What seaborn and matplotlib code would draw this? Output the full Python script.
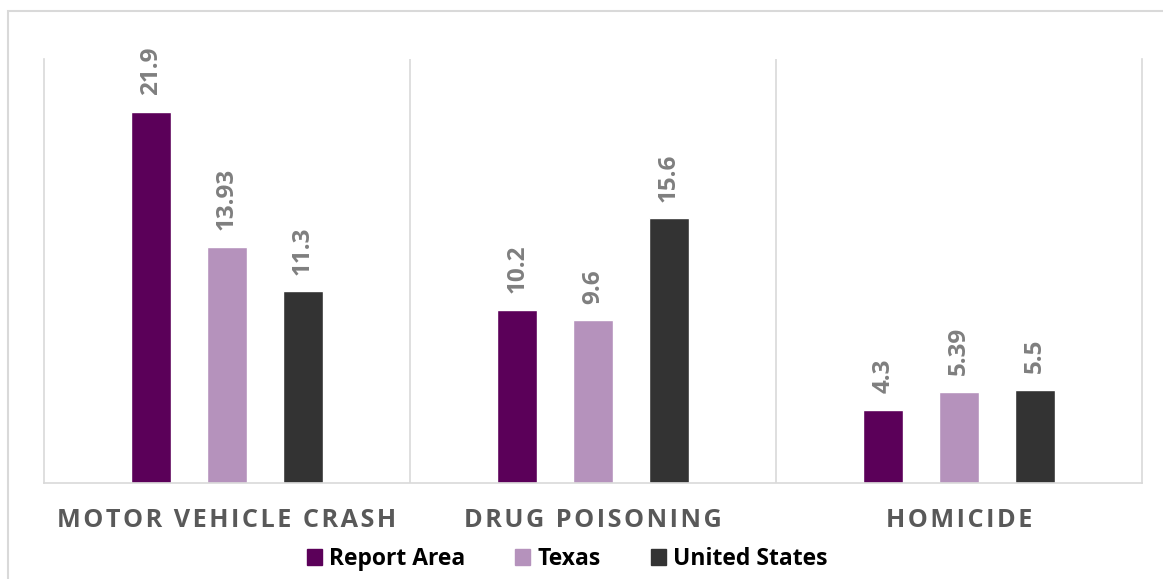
import matplotlib
matplotlib.use("Agg")
import matplotlib.pyplot as plt
import matplotlib.patches as mpatches
import seaborn as sns
import pandas as pd

# Death rates by cause (per 100,000)
causes = ["MOTOR VEHICLE CRASH", "DRUG POISONING", "HOMICIDE"]
areas = ["Report Area", "Texas", "United States"]
report_area = [21.9, 10.2, 4.3]
texas = [13.93, 9.6, 5.39]
united_states = [11.3, 15.6, 5.5]
colors = ["#5B0059", "#B592BC", "#333333"]

rows = []
for area, vals in zip(areas, [report_area, texas, united_states]):
    for cause, v in zip(causes, vals):
        rows.append({"cause": cause, "area": area, "rate": v})
df = pd.DataFrame(rows)

sns.set_theme(style="white")
plt.rcParams["font.family"] = ["Open Sans", "DejaVu Sans"]

W, H = 1163, 579
fig = plt.figure(figsize=(W / 100, H / 100), dpi=100)
ax = fig.add_axes([44 / W, 1 - 483 / H, (1142 - 44) / W, (483 - 59) / H])

sns.barplot(data=df, x="cause", y="rate", hue="area", order=causes,
            hue_order=areas, palette=colors, width=0.62, gap=0.47,
            saturation=1, ax=ax, legend=False)

ax.set_xlim(-0.5, 2.5)
ax.set_ylim(0, 25)
ax.set_yticks([])
ax.set_xlabel("")
ax.set_ylabel("")

grid_c = "#D9D9D9"
for s in ["left", "right", "bottom"]:
    ax.spines[s].set_color(grid_c)
    ax.spines[s].set_linewidth(1.2)
ax.spines["top"].set_visible(False)
for x in [0.5, 1.5]:
    ax.axvline(x, color=grid_c, lw=1.2, zorder=0)

# Spaced-out category labels
spaced = ["\u200a".join(c) for c in causes]
ax.set_xticks(range(len(causes)))
ax.set_xticklabels(spaced, fontsize=18.2, fontweight="bold", color="#595959")
ax.tick_params(axis="x", length=0, pad=18)

for cont in ax.containers:
    ax.bar_label(cont, labels=[f"{v:g}" for v in cont.datavalues],
                 rotation=90, padding=12, fontsize=17.5, fontweight="bold",
                 color="#7F7F7F")

handles = [mpatches.Patch(color=c, label=a) for c, a in zip(colors, areas)]
fig.legend(handles=handles, loc="center", bbox_to_anchor=(567 / W, 1 - 559 / H),
           ncol=3, frameon=False, handlelength=0.65, handleheight=0.65,
           handletextpad=0.3, columnspacing=2.2,
           prop={"size": 16.5, "weight": "bold"}, labelcolor="black")

# Light outer frame
fig.add_artist(mpatches.Rectangle((8 / W, -0.05), 1.1, 1 - 11 / H + 0.05,
                                  transform=fig.transFigure, fill=False,
                                  edgecolor=grid_c, lw=1.5))

fig.savefig("out.png", dpi=100)
